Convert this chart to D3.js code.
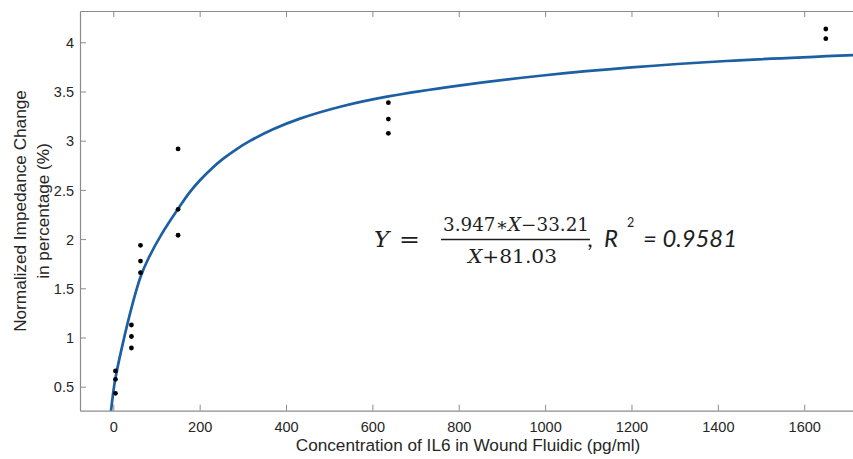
<!DOCTYPE html>
<html>
<head>
<meta charset="utf-8">
<script src="https://cdn.jsdelivr.net/npm/d3@7"></script>
<style>
  html, body { margin: 0; padding: 0; background: #fff; }
  svg { display: block; }
</style>
</head>
<body>
<svg id="chart" width="853" height="459"></svg>
<script>
// ---- data ----
const concX = [5, 5, 5, 42, 42, 42, 63, 63, 63, 150, 150, 150, 637, 637, 637, 1650, 1650];
const impY  = [0.66, 0.575, 0.433, 1.127, 1.01, 0.893, 1.937, 1.777, 1.659, 2.916, 2.303, 2.039, 3.386, 3.22, 3.075, 4.135, 4.037];

const fitX = [-5.3, 3.9, 20, 46.3, 63.4, 81, 112, 150.5, 175, 200.7, 230, 254.7, 285, 316.5, 370, 432.3, 530, 637, 800, 1000, 1200, 1420, 1713];
const fitY = [0.253, 0.56, 0.90, 1.37, 1.62, 1.80, 2.05, 2.31, 2.465, 2.598, 2.726, 2.818, 2.913, 2.998, 3.116, 3.224, 3.35, 3.45, 3.56, 3.665, 3.745, 3.81, 3.87];

const xTicks = [0, 200, 400, 600, 800, 1000, 1200, 1400, 1600];
const yTicks = [0.5, 1, 1.5, 2, 2.5, 3, 3.5, 4];

const xLabel = "Concentration of IL6 in Wound Fluidic (pg/ml)";
const yLabelLines = ["Normalized Impedance Change", "in percentage (%)"];

// ---- layout ----
const L = 80, R = 853, T = 11, B = 410.7;
const svg = d3.select("#chart");

const x = d3.scaleLinear().domain([-77.1, 1713]).range([L, R]);
const y = d3.scaleLinear().domain([0.256, 4.318]).range([B, T]);

const axisColor = "#8c8c8c";
const textColor = "#262626";
const fontFam = "'Liberation Sans', Arial, Helvetica, sans-serif";

// clip
svg.append("clipPath").attr("id", "plotclip")
  .append("rect").attr("x", L).attr("y", T).attr("width", R - L).attr("height", B - T);

// bottom axis
const gx = svg.append("g").attr("transform", `translate(0,${B})`)
  .call(d3.axisBottom(x).tickValues(xTicks).tickFormat(d3.format("d"))
    .tickSizeInner(-6).tickSizeOuter(0).tickPadding(11));
// top axis (ticks only)
const gxt = svg.append("g").attr("transform", `translate(0,${T})`)
  .call(d3.axisTop(x).tickValues(xTicks).tickFormat("")
    .tickSizeInner(-6).tickSizeOuter(0));
// left axis
const gy = svg.append("g").attr("transform", `translate(${L},0)`)
  .call(d3.axisLeft(y).tickValues(yTicks).tickFormat(d => String(d))
    .tickSizeInner(-6).tickSizeOuter(0).tickPadding(6));

[gx, gxt, gy].forEach(g => {
  g.selectAll("path.domain").attr("stroke", axisColor).attr("stroke-width", 1.2);
  g.selectAll(".tick line").attr("stroke", axisColor).attr("stroke-width", 1);
  g.selectAll(".tick text").attr("fill", textColor)
    .style("font-family", fontFam).style("font-size", "14.5px");
});
gy.selectAll(".tick text").attr("dy", "0.36em");

// axis labels
svg.append("text")
  .attr("x", 468).attr("y", 451)
  .attr("text-anchor", "middle")
  .attr("fill", textColor)
  .style("font-family", fontFam).style("font-size", "17.2px")
  .text(xLabel);

const yl = svg.append("g").attr("transform", "translate(0,211) rotate(-90)");
yLabelLines.forEach((s, i) => {
  yl.append("text")
    .attr("x", 0).attr("y", i === 0 ? 26 : 49)
    .attr("text-anchor", "middle")
    .attr("fill", textColor)
    .style("font-family", fontFam).style("font-size", "17.2px")
    .text(s);
});

// fitted curve
const fitData = fitX.map((v, i) => [v, fitY[i]]);
svg.append("path")
  .datum(fitData)
  .attr("clip-path", "url(#plotclip)")
  .attr("fill", "none")
  .attr("stroke", "#1d5fa3")
  .attr("stroke-width", 2.7)
  .attr("d", d3.line().x(d => x(d[0])).y(d => y(d[1])).curve(d3.curveCatmullRom.alpha(0.5)));

// data points
svg.append("g").selectAll("circle")
  .data(concX.map((v, i) => [v, impY[i]]))
  .join("circle")
  .attr("cx", d => x(d[0]))
  .attr("cy", d => y(d[1]))
  .attr("r", 2.4)
  .attr("fill", "#000");

// equation
const eq = svg.append("g").attr("fill", "#1e1e1e");
const mathFont = "'DejaVu Serif', 'Liberation Serif', serif";
eq.append("text").attr("x", 374).attr("y", 247)
  .style("font-family", mathFont).style("font-size", "23px").style("font-style", "italic")
  .text("Y");
eq.append("text").attr("x", 399).attr("y", 247)
  .attr("textLength", 21).attr("lengthAdjust", "spacingAndGlyphs")
  .style("font-family", mathFont).style("font-size", "23px")
  .text("=");
const num = eq.append("text").attr("x", 443).attr("y", 231)
  .attr("textLength", 146).attr("lengthAdjust", "spacingAndGlyphs")
  .style("font-family", mathFont).style("font-size", "18px");
num.append("tspan").text("3.947∗");
num.append("tspan").style("font-style", "italic").text("X");
num.append("tspan").text("−33.21");
eq.append("line").attr("x1", 441).attr("x2", 590).attr("y1", 239.5).attr("y2", 239.5)
  .attr("stroke", "#1e1e1e").attr("stroke-width", 1.4);
const den = eq.append("text").attr("x", 468).attr("y", 263)
  .attr("textLength", 89).attr("lengthAdjust", "spacingAndGlyphs")
  .style("font-family", mathFont).style("font-size", "18px");
den.append("tspan").style("font-style", "italic").text("X");
den.append("tspan").text("+81.03");

const sansIt = "Lato, 'Open Sans', sans-serif";
eq.append("text").attr("x", 588).attr("y", 247)
  .style("font-family", sansIt).style("font-size", "24px").style("font-style", "italic")
  .text(",");
eq.append("text").attr("x", 604).attr("y", 247)
  .style("font-family", sansIt).style("font-size", "24px").style("font-style", "italic")
  .text("R");
eq.append("text").attr("x", 627).attr("y", 227)
  .style("font-family", sansIt).style("font-size", "12.5px")
  .text("2");
eq.append("text").attr("x", 643).attr("y", 247)
  .attr("textLength", 94).attr("lengthAdjust", "spacingAndGlyphs")
  .style("font-family", sansIt).style("font-size", "24px").style("font-style", "italic")
  .text("= 0.9581");
</script>
</body>
</html>
